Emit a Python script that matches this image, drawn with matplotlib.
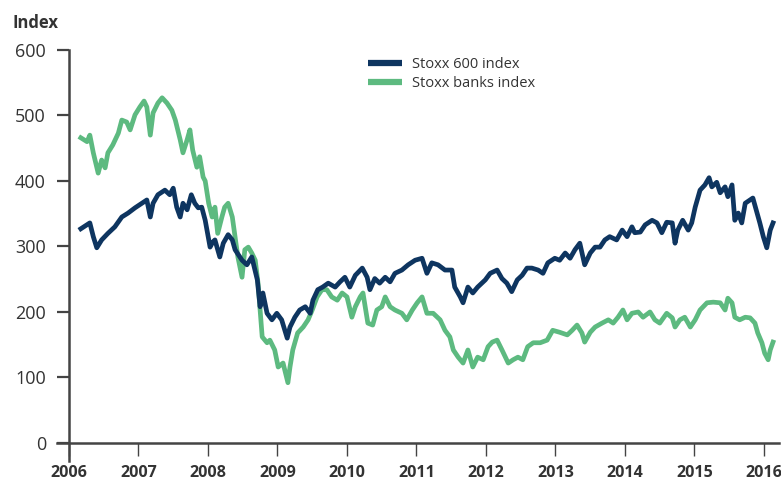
import numpy as np
import matplotlib
matplotlib.use("Agg")
import matplotlib.pyplot as plt

plt.rcParams['font.family'] = ['Open Sans', 'DejaVu Sans']

# Stoxx 600 index (decimal year, value)
stoxx600_t = [2006.17, 2006.30, 2006.35, 2006.40, 2006.47, 2006.56, 2006.66, 2006.76, 2006.85, 2006.95,
              2007.05, 2007.12, 2007.17, 2007.21, 2007.28, 2007.38, 2007.45, 2007.50, 2007.55, 2007.60,
              2007.64, 2007.70, 2007.76, 2007.81, 2007.86, 2007.91, 2007.96, 2008.03, 2008.07, 2008.10,
              2008.17, 2008.22, 2008.29, 2008.35, 2008.39, 2008.49, 2008.56, 2008.63, 2008.71, 2008.75,
              2008.79, 2008.85, 2008.92, 2008.99, 2009.06, 2009.14, 2009.18, 2009.25, 2009.32, 2009.40,
              2009.47, 2009.51, 2009.58, 2009.65, 2009.73, 2009.83, 2009.90, 2009.97, 2010.04, 2010.12,
              2010.22, 2010.29, 2010.33, 2010.40, 2010.47, 2010.55, 2010.62, 2010.69, 2010.79, 2010.88,
              2010.98, 2011.08, 2011.15, 2011.22, 2011.31, 2011.41, 2011.51, 2011.55, 2011.63, 2011.67,
              2011.74, 2011.81, 2011.88, 2011.99, 2012.06, 2012.16, 2012.23, 2012.30, 2012.37, 2012.45,
              2012.52, 2012.59, 2012.66, 2012.75, 2012.82, 2012.89, 2012.99, 2013.06, 2013.14, 2013.21,
              2013.28, 2013.35, 2013.42, 2013.50, 2013.57, 2013.64, 2013.71, 2013.78, 2013.88, 2013.96,
              2014.03, 2014.10, 2014.14, 2014.22, 2014.29, 2014.39, 2014.46, 2014.53, 2014.60, 2014.68,
              2014.72, 2014.76, 2014.83, 2014.91, 2014.96, 2015.01, 2015.08, 2015.15, 2015.21, 2015.25,
              2015.32, 2015.37, 2015.44, 2015.48, 2015.54, 2015.58, 2015.63, 2015.68, 2015.73, 2015.80,
              2015.84, 2015.90, 2015.94, 2015.99, 2016.04, 2016.09, 2016.13]
stoxx600_v = [327, 336, 315, 298, 310, 320, 330, 345, 351, 359,
              366, 371, 345, 366, 379, 386, 379, 389, 360, 345,
              366, 356, 379, 366, 359, 360, 340, 299, 307, 310,
              284, 305, 318, 310, 295, 279, 272, 284, 249, 208,
              229, 198, 188, 198, 188, 160, 177, 192, 203, 208,
              198, 218, 234, 238, 244, 238, 246, 253, 238, 256,
              267, 253, 234, 251, 244, 253, 246, 259, 264, 272,
              279, 282, 259, 275, 272, 264, 264, 238, 223, 214,
              238, 229, 238, 249, 259, 264, 251, 244, 231, 249,
              256, 267, 267, 264, 259, 275, 282, 279, 290, 282,
              295, 305, 272, 290, 299, 299, 310, 315, 310, 325,
              315, 330, 321, 322, 333, 340, 336, 321, 337, 336,
              305, 325, 340, 325, 336, 360, 386, 394, 405, 391,
              398, 382, 391, 376, 394, 340, 351, 336, 366, 371,
              374, 351, 336, 315, 298, 325, 336]

# Stoxx banks index (decimal year, value)
banks_t = [2006.17, 2006.26, 2006.30, 2006.35, 2006.42, 2006.47, 2006.52, 2006.56, 2006.63, 2006.71,
           2006.76, 2006.83, 2006.88, 2006.95, 2007.02, 2007.08, 2007.12, 2007.17, 2007.21, 2007.28,
           2007.34, 2007.41, 2007.48, 2007.53, 2007.60, 2007.64, 2007.70, 2007.74, 2007.78, 2007.84,
           2007.88, 2007.93, 2007.96, 2008.01, 2008.06, 2008.10, 2008.14, 2008.20, 2008.24, 2008.29,
           2008.35, 2008.39, 2008.43, 2008.49, 2008.53, 2008.58, 2008.63, 2008.68, 2008.72, 2008.75,
           2008.78, 2008.85, 2008.89, 2008.96, 2009.01, 2009.08, 2009.15, 2009.18, 2009.22, 2009.29,
           2009.37, 2009.44, 2009.50, 2009.57, 2009.64, 2009.71, 2009.78, 2009.86, 2009.93, 2010.00,
           2010.07, 2010.12, 2010.19, 2010.23, 2010.30, 2010.37, 2010.43, 2010.50, 2010.55, 2010.62,
           2010.69, 2010.79, 2010.86, 2010.94, 2011.01, 2011.08, 2011.15, 2011.24, 2011.34, 2011.41,
           2011.48, 2011.53, 2011.60, 2011.67, 2011.74, 2011.81, 2011.88, 2011.96, 2012.03, 2012.09,
           2012.16, 2012.23, 2012.32, 2012.39, 2012.46, 2012.53, 2012.60, 2012.68, 2012.78, 2012.88,
           2012.96, 2013.06, 2013.17, 2013.24, 2013.31, 2013.38, 2013.42, 2013.50, 2013.57, 2013.67,
           2013.76, 2013.83, 2013.90, 2013.97, 2014.03, 2014.10, 2014.19, 2014.26, 2014.36, 2014.43,
           2014.50, 2014.60, 2014.68, 2014.72, 2014.79, 2014.86, 2014.94, 2015.01, 2015.08, 2015.18,
           2015.27, 2015.37, 2015.44, 2015.48, 2015.54, 2015.58, 2015.65, 2015.73, 2015.80, 2015.87,
           2015.91, 2015.97, 2016.01, 2016.06, 2016.09, 2016.13]
banks_v = [466, 460, 470, 443, 412, 432, 420, 443, 455, 473,
           493, 490, 478, 501, 513, 522, 513, 470, 504, 519,
           527, 519, 508, 493, 463, 443, 463, 478, 447, 421,
           437, 406, 400, 366, 345, 360, 320, 345, 360, 366,
           345, 315, 284, 253, 295, 299, 290, 279, 244, 203,
           162, 153, 157, 142, 116, 122, 92, 116, 142, 168,
           177, 188, 203, 223, 234, 234, 223, 218, 229, 223,
           192, 208, 223, 229, 183, 180, 203, 208, 223, 208,
           203, 198, 188, 203, 214, 223, 198, 198, 188, 172,
           162, 142, 131, 122, 142, 116, 131, 127, 147, 154,
           157, 142, 122, 127, 131, 127, 147, 153, 153, 157,
           172, 169, 165, 172, 180, 168, 154, 169, 177, 183,
           188, 183, 192, 203, 188, 198, 200, 192, 200, 188,
           183, 198, 191, 177, 188, 192, 177, 188, 203, 214,
           215, 214, 203, 221, 214, 192, 188, 192, 191, 183,
           168, 153, 137, 127, 142, 154]

years = list(range(2006, 2017))
yticks = [0, 100, 200, 300, 400, 500, 600]

navy = '#0e3560'
green = '#5dba80'
txt = '#333333'
axc = '#444444'

fig = plt.figure(figsize=(7.81, 4.93), dpi=100)
ax = fig.add_axes([0.0732, 0.0643, 0.9246, 0.8343])

ax.plot(banks_t, banks_v, color=green, lw=3.4, solid_joinstyle='round', label='Stoxx banks index', zorder=2)
ax.plot(stoxx600_t, stoxx600_v, color=navy, lw=3.4, solid_joinstyle='round', label='Stoxx 600 index', zorder=3)

ax.set_xlim(2005.83, 2016.22)
ax.set_ylim(-28, 600)

for s in ['top', 'right']:
    ax.spines[s].set_visible(False)
ax.spines['left'].set_position(('data', 2006))
ax.spines['bottom'].set_position(('data', 0))
ax.spines['left'].set_color(axc)
ax.spines['bottom'].set_color(axc)
ax.spines['left'].set_linewidth(1.8)
ax.spines['bottom'].set_linewidth(1.8)

ax.set_yticks(yticks)
ax.set_yticklabels([str(v) for v in yticks])
ax.set_xticks(years)
ax.set_xticklabels([str(y) for y in years])
ax.tick_params(axis='y', direction='out', length=8.6, width=1.6, color=axc, pad=8,
               labelsize=13, labelcolor=txt)
ax.tick_params(axis='x', direction='out', length=9.5, width=1.0, color=axc, pad=6.5,
               labelsize=11.6, labelcolor=txt)
for lab in ax.get_xticklabels():
    lab.set_fontweight('bold')

fig.text(12 / 781, 1 - 23 / 493, 'Index', fontsize=12, fontweight='bold', color=txt, va='center', ha='left')

h, l = ax.get_legend_handles_labels()
leg = fig.legend(h[::-1], l[::-1], loc='upper left', bbox_to_anchor=(368 / 781, 1 - 57 / 493),
                 frameon=False, fontsize=10.5, handlelength=2.3, handletextpad=0.75,
                 labelspacing=0.3, borderaxespad=0, borderpad=0)
for t in leg.get_texts():
    t.set_color(txt)
for ln in leg.get_lines():
    ln.set_linewidth(4.5)
    ln.set_solid_capstyle('butt')

fig.savefig('out.png', dpi=100)
